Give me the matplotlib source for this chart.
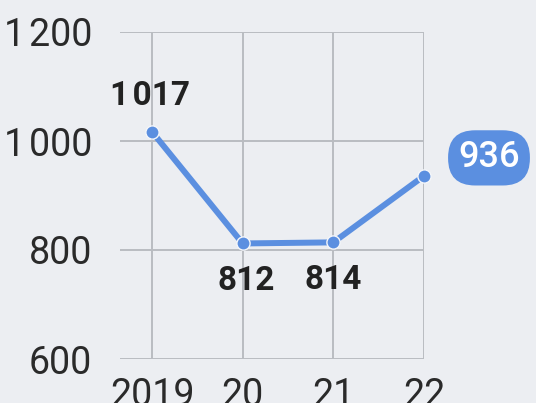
import matplotlib
matplotlib.use("Agg")
import matplotlib.pyplot as plt

years = ["2019", "20", "21", "22"]
values = [1017, 812, 814, 936]
value_labels = ["1\u200a017", "812", "814", "936"]
yticks = [600, 800, 1000, 1200]
ytick_labels = ["600", "800", "1\u200a000", "1\u200a200"]

plt.rcParams['font.family'] = ['Roboto', 'DejaVu Sans']

bg = "#eceef2"
blue = "#5b8fe0"
txt = "#222222"
grid = "#b9bcc1"

fig = plt.figure(figsize=(5.36, 4.03), dpi=100, facecolor=bg)
ax = fig.add_axes([120/536, 1 - 359/403, 304/536, 327/403], facecolor=bg)

x = list(range(len(years)))
ax.plot(x, values, color=blue, lw=4.3, marker="o", ms=9.5,
        markerfacecolor=blue, markeredgecolor="#f4f6fa", markeredgewidth=1.0,
        solid_capstyle="round", zorder=3, clip_on=False)

ax.set_xlim(-0.353, 3)
ax.set_ylim(600, 1200)
ax.set_xticks(x)
ax.set_xticklabels(years)
ax.set_yticks(yticks)
ax.set_yticklabels(ytick_labels)
for s in ax.spines.values():
    s.set_visible(False)
ax.grid(True, color=grid, lw=1.4)
ax.set_axisbelow(True)
ax.tick_params(length=0, labelsize=27, labelcolor="#2a2a2a")
ax.tick_params(axis="x", pad=13)
ax.tick_params(axis="y", pad=20)

offsets = [(-2, 36), (4, -38), (0, -38)]
for i in range(3):
    ax.annotate(value_labels[i], (x[i], values[i]), xytext=offsets[i],
                textcoords="offset pixels", ha="center", va="center",
                fontsize=24, fontweight="bold", color=txt)

ax.annotate(value_labels[3], (x[3], values[3]), xytext=(65, 18),
            textcoords="offset pixels", ha="center", va="center",
            fontsize=26, fontweight="medium", color="white", annotation_clip=False,
            bbox=dict(boxstyle="round,pad=0.28,rounding_size=0.75", fc=blue, ec="none"))

fig.savefig("out.png", dpi=100, facecolor=bg)
